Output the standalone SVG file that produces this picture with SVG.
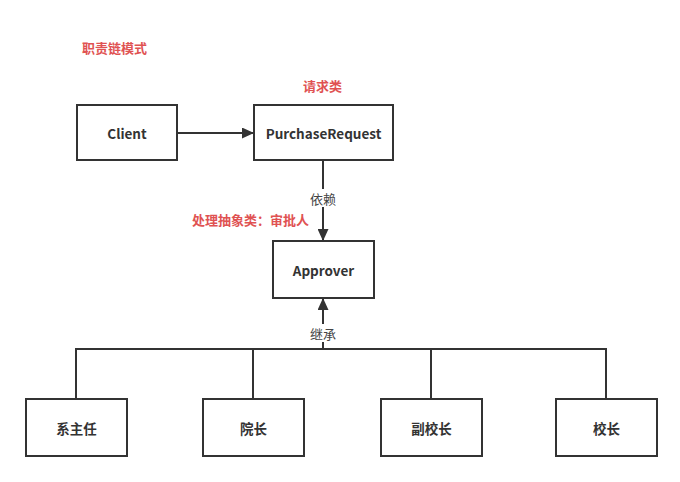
<svg xmlns="http://www.w3.org/2000/svg" width="680" height="482" viewBox="0 0 680 482">
<style>
.box{fill:#fff;stroke:#333;stroke-width:2}
.t{font-family:"Noto Sans CJK SC","Liberation Sans",sans-serif;font-size:13.5px;font-weight:bold;fill:#333;text-anchor:middle;dominant-baseline:central}
.red{font-family:"Noto Sans CJK SC","Liberation Sans",sans-serif;font-size:13px;font-weight:bold;fill:#e05252}
.lbl{font-family:"Noto Sans CJK SC","Liberation Sans",sans-serif;font-size:13px;fill:#444;text-anchor:middle;dominant-baseline:central}
.ln{fill:none;stroke:#333;stroke-width:2}
</style>
<defs>
<marker id="ah" markerWidth="12" markerHeight="11" refX="11" refY="5.5" orient="auto" markerUnits="userSpaceOnUse" viewBox="0 0 12 11">
<path d="M0,0 L12,5.5 L0,11 Z" fill="#333"/>
</marker>
</defs>
<rect width="680" height="482" fill="#fff"/>
<text class="red" x="82" y="53">职责链模式</text>
<text class="red" x="303" y="91">请求类</text>
<text class="red" x="192" y="225">处理抽象类：审批人</text>
<g id="connectors">
<path class="ln" d="M177,133 L253,133" marker-end="url(#ah)"/>
<path class="ln" d="M323,160 L323,240" marker-end="url(#ah)"/>
<path class="ln" d="M323,349 L323,299" marker-end="url(#ah)"/>
<path class="ln" d="M76,399 L76,349 L606,349 L606,399"/>
<path class="ln" d="M253,349 L253,399"/>
<path class="ln" d="M431,349 L431,399"/>
<rect x="308" y="189" width="30" height="18" fill="#fff"/>
<text class="lbl" x="323" y="198">依赖</text>
<rect x="308" y="324" width="30" height="18" fill="#fff"/>
<text class="lbl" x="323" y="333">继承</text>
</g>
<g id="client"><rect class="box" x="77" y="105" width="100" height="55"/><text class="t" x="127" y="133">Client</text></g>
<g id="purchaseRequest"><rect class="box" x="254" y="105" width="139" height="55"/><text class="t" x="323.5" y="133">PurchaseRequest</text></g>
<g id="approver"><rect class="box" x="273" y="241" width="101" height="57"/><text class="t" x="323.5" y="270">Approver</text></g>
<g id="xizhuren"><rect class="box" x="26" y="399" width="101" height="57"/><text class="t" x="76.5" y="428">系主任</text></g>
<g id="yuanzhang"><rect class="box" x="203" y="399" width="101" height="57"/><text class="t" x="253.5" y="428">院长</text></g>
<g id="fuxiaozhang"><rect class="box" x="381" y="399" width="101" height="57"/><text class="t" x="431.5" y="428">副校长</text></g>
<g id="xiaozhang"><rect class="box" x="556" y="399" width="101" height="57"/><text class="t" x="606.5" y="428">校长</text></g>
</svg>
